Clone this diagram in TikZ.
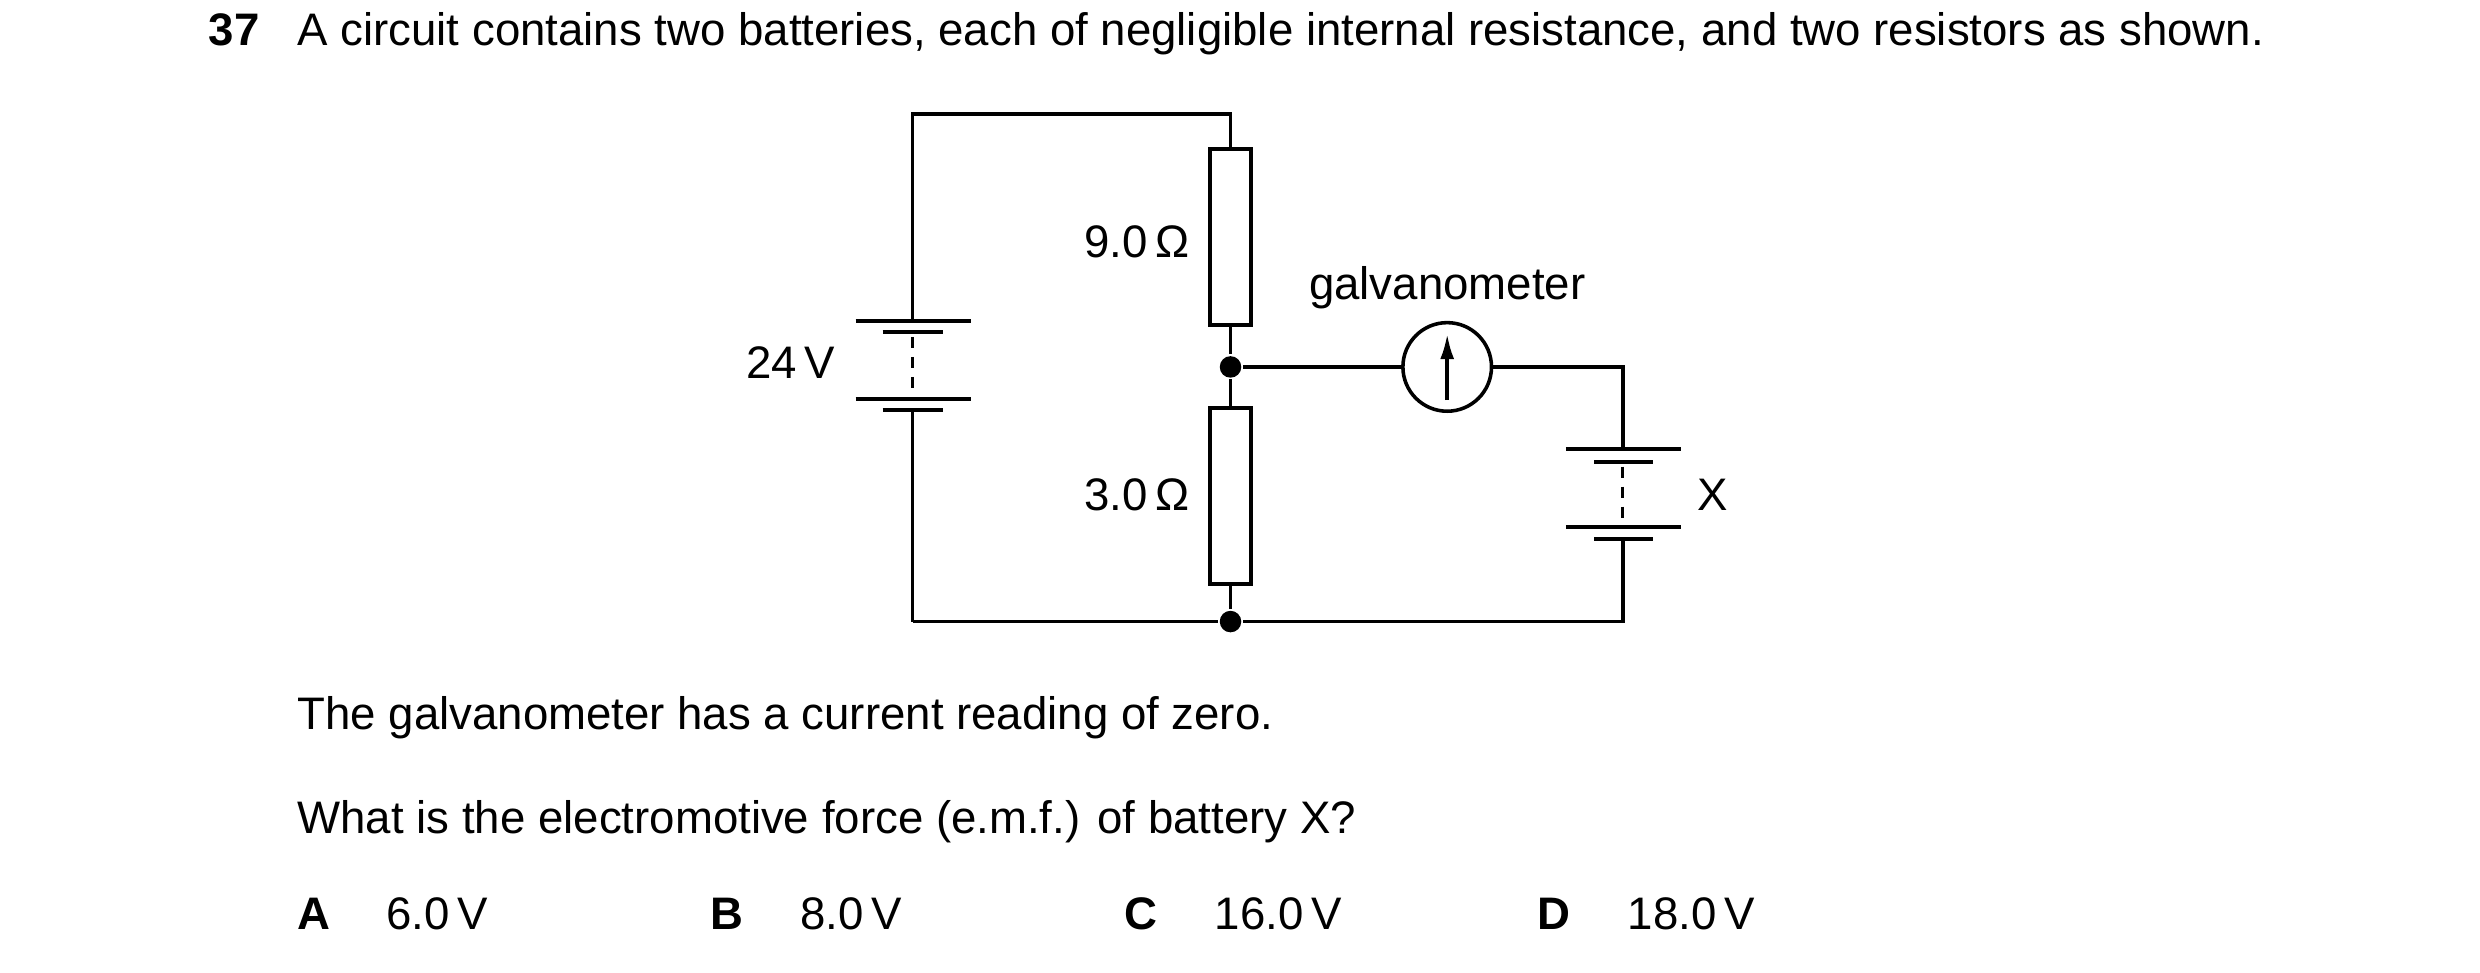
\documentclass[tikz,border=0pt]{standalone}
\usepackage{fontspec}
\setmainfont{Liberation Sans}
\usetikzlibrary{arrows.meta}
\begin{document}
\begin{tikzpicture}[x=0.025cm,y=-0.025cm,line width=1.6pt,
  txt/.style={font=\fontsize{20.5}{24}\selectfont,inner sep=0,anchor=base west},
  lbl/.style={font=\fontsize{20.5}{24}\selectfont,inner sep=0},
  res/.style={draw,fill=white,minimum width=0.65cm,minimum height=2.78cm,inner sep=0},
  dot/.style={circle,fill=black,inner sep=0,minimum size=0.34cm},
  plate/.style={line width=1.8pt}]
\useasboundingbox (0,0) rectangle (1568,615);
% text
\node[txt,font=\fontsize{20.5}{24}\selectfont\bfseries] (q) at (131,29) {37};
\node[txt] (t1) at (187,29) {A circuit contains two batteries, each of negligible internal resistance, and two resistors as shown.};
\node[txt] (t2) at (187,461) {The galvanometer has a current reading of zero.};
\node[txt] (t3) at (187,527) {What is the electromotive force (e.m.f.) of battery X?};
\foreach \l/\v/\a/\b in {A/6.0\,V/187/243,B/8.0\,V/448/505,C/16.0\,V/710/767,D/18.0\,V/971/1028}{
  \node[txt,font=\fontsize{20.5}{24}\selectfont\bfseries] at (\a,588) {\l};
  \node[txt] at (\b,588) {\v};}
% coordinates
\coordinate (tl) at (577,72); \coordinate (tm) at (778,72);
\coordinate (bl) at (577,393); \coordinate (br) at (1026,393);
\coordinate (jr) at (1026,232);
\node[dot] (j1) at (778,232) {};
\node[dot] (j2) at (778,393) {};
\node[res] (r1) at (778,150) {};
\node[res] (r2) at (778,313.5) {};
\node[draw,circle,minimum size=1.4cm,inner sep=0,fill=white] (g) at (915,232) {};
% wires
\draw (bl) -- (577,259) (577,203) -- (tl) -- (tm) -- (r1.north);
\draw (r1.south) -- (j1) -- (r2.north) (r2.south) -- (j2);
\draw (bl) -- (j2) -- (br) -- (1026,341);
\draw (j1) -- (g) -- (jr) -- (1026,284);
\draw[-{Latex[length=0.4cm,width=0.22cm]}] (915,253) -- (915,211);
% batteries
\draw[plate] (541,203) -- (614,203) (558,210) -- (596,210) (541,252) -- (614,252) (558,259) -- (596,259);
\draw[dashed,line width=1.2pt,dash pattern=on 5pt off 4pt] (577,213) -- (577,250);
\draw[plate] (990,284) -- (1063,284) (1008,292) -- (1045,292) (990,333) -- (1063,333) (1008,341) -- (1045,341);
\draw[dashed,line width=1.2pt,dash pattern=on 5pt off 4pt] (1026,295) -- (1026,331);
% labels
\node[lbl,anchor=east] (l24) at (529,229) {24\,V};
\node[lbl,anchor=east] (l9) at (753,153) {9.0\,Ω};
\node[lbl,anchor=east] (l3) at (753,313) {3.0\,Ω};
\node[lbl] (lg) at (915,182) {galvanometer};
\node[lbl] (lx) at (1083,313) {X};
\end{tikzpicture}
\end{document}
